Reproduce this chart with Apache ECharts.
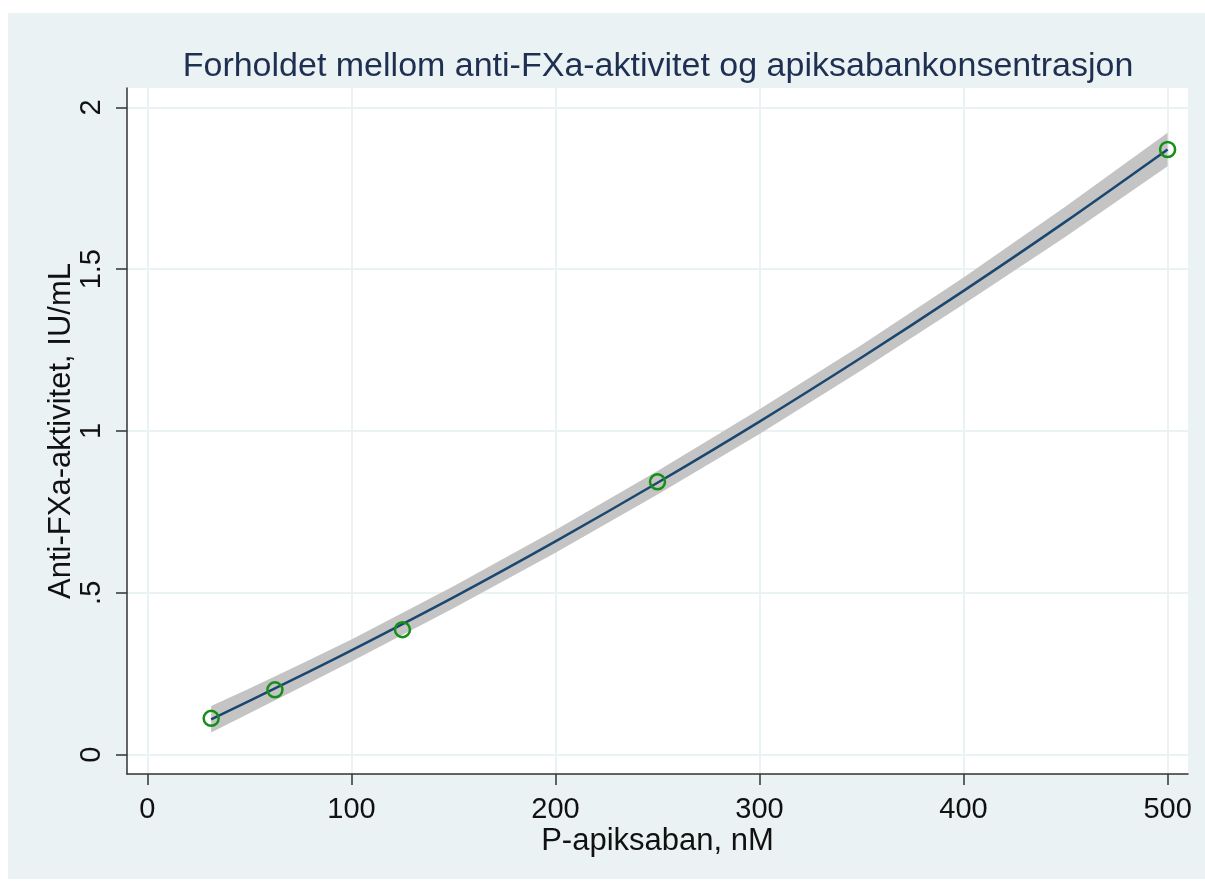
<!DOCTYPE html>
<html>
<head>
<meta charset="utf-8">
<script src="https://cdn.jsdelivr.net/npm/echarts@6/dist/echarts.min.js"></script>
<style>
  html, body { margin: 0; padding: 0; background: #ffffff; }
  #bg { position: absolute; left: 8px; top: 13px; width: 1197px; height: 866px; background: #EAF2F3; }
  #chart { position: absolute; left: 0; top: 0; width: 1205px; height: 886px; }
</style>
</head>
<body>
<div id="bg"></div>
<div id="chart"></div>
<script>
// Observed data points
const obsX = [31.25, 62.5, 125, 250, 500];
const obsY = [0.112, 0.200, 0.386, 0.843, 1.870];

// Fitted curve
const fitX = [31.25, 50, 75, 100, 150, 200, 250, 300, 350, 400, 450, 500];
const fitY = [0.109, 0.166, 0.243, 0.322, 0.486, 0.659, 0.840, 1.029, 1.227, 1.433, 1.647, 1.870];
// Confidence band bounds
const ciLow = [0.068, 0.128, 0.207, 0.288, 0.452, 0.624, 0.804, 0.991, 1.188, 1.392, 1.600, 1.818];
const ciHigh = [0.150, 0.204, 0.279, 0.356, 0.520, 0.694, 0.876, 1.067, 1.266, 1.474, 1.694, 1.922];

// Tick labels
const xTicks = [0, 100, 200, 300, 400, 500];
const yTicks = [0, 0.5, 1, 1.5, 2];
const yTickLabels = ['0', '.5', '1', '1.5', '2'];

const titleText = 'Forholdet mellom anti-FXa-aktivitet og apiksabankonsentrasjon';
const xTitle = 'P-apiksaban, nM';
const yTitle = 'Anti-FXa-aktivitet, IU/mL';

const FONT = '"Liberation Sans", Arial, sans-serif';

const chart = echarts.init(document.getElementById('chart'), null, { renderer: 'canvas' });

const bandData = fitX.map((x, i) => [x, ciLow[i], ciHigh[i]]);

const option = {
  animation: false,
  backgroundColor: 'transparent',
  title: {
    text: titleText,
    left: 653,
    textAlign: 'center',
    top: 45,
    textStyle: { fontFamily: FONT, fontSize: 34, fontWeight: 'normal', color: '#1e2f52' }
  },
  grid: {
    left: 127, top: 88, right: 17, bottom: 112,
    show: true, backgroundColor: '#ffffff', borderWidth: 0
  },
  xAxis: {
    type: 'value', min: -10, max: 510,
    name: xTitle, nameLocation: 'middle', nameGap: 52, nameMoveOverlap: false,
    nameTextStyle: { fontFamily: FONT, fontSize: 31, color: '#111' },
    axisLine: { onZero: false, lineStyle: { color: '#333', width: 1.5 } },
    axisTick: { show: true, length: 11, customValues: xTicks, lineStyle: { color: '#333', width: 1.5 } },
    axisLabel: { customValues: xTicks, margin: 21, fontFamily: FONT, fontSize: 29, color: '#111' },
    splitLine: { show: true, lineStyle: { color: '#EAF2F3', width: 2 } }
  },
  yAxis: {
    type: 'value', min: -0.06, max: 2.06,
    name: yTitle, nameLocation: 'middle', nameGap: 50, nameRotate: 90, nameMoveOverlap: false,
    nameTextStyle: { fontFamily: FONT, fontSize: 31, color: '#111' },
    axisLine: { show: true, onZero: false, lineStyle: { color: '#333', width: 1.5 } },
    axisTick: { show: true, length: 11, customValues: yTicks, lineStyle: { color: '#333', width: 1.5 } },
    axisLabel: {
      customValues: yTicks, margin: 21, rotate: 90, fontFamily: FONT, fontSize: 29, color: '#111',
      formatter: function (v) { const i = yTicks.indexOf(v); return i >= 0 ? yTickLabels[i] : ''; }
    },
    splitLine: { show: true, lineStyle: { color: '#EAF2F3', width: 2 } }
  },
  series: [
    {
      type: 'custom',
      data: bandData,
      encode: { x: 0, y: [1, 2] },
      z: 1,
      silent: true,
      renderItem: function (params, api) {
        if (params.dataIndex !== 0) return null;
        const pts = [];
        for (let i = 0; i < fitX.length; i++) pts.push(api.coord([fitX[i], ciHigh[i]]));
        for (let i = fitX.length - 1; i >= 0; i--) pts.push(api.coord([fitX[i], ciLow[i]]));
        return {
          type: 'polygon',
          shape: { points: pts },
          style: { fill: '#c4c4c4', stroke: null }
        };
      }
    },
    {
      type: 'line',
      data: fitX.map((x, i) => [x, fitY[i]]),
      showSymbol: false,
      smooth: 0.3,
      z: 2,
      lineStyle: { color: '#1a476f', width: 2.5 }
    },
    {
      type: 'scatter',
      data: obsX.map((x, i) => [x, obsY[i]]),
      symbol: 'circle',
      symbolSize: 15,
      z: 3,
      itemStyle: { color: 'rgba(0,0,0,0)', borderColor: '#168f16', borderWidth: 2.5, opacity: 1 }
    }
  ]
};
chart.setOption(option);
</script>
</body>
</html>
